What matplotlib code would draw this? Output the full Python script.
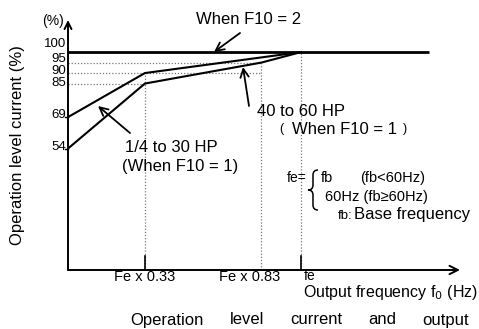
import matplotlib
matplotlib.use("Agg")
import matplotlib.pyplot as plt
from matplotlib.path import Path
from matplotlib.patches import PathPatch, FancyArrowPatch

plt.rcParams['font.family'] = ['Liberation Sans', 'DejaVu Sans']

# ---- data ----
x_small = [0, 0.33, 1.0]           # 1/4 to 30 HP (F10 = 1)
y_small = [69, 90, 100]
x_large = [0, 0.33, 0.83, 1.0]     # 40 to 60 HP (F10 = 1)
y_large = [54, 85, 95, 100]
x_f10_2 = [0, 1.55]                # F10 = 2
y_f10_2 = [100, 100]
ytick_vals = [100, 95, 90, 85, 69, 54]
ytick_labels = ['100', '95', '90', '85', '69', '54']
xtick_vals = [0.33, 0.83, 1.0]
xtick_labels = ['Fe x 0.33', 'Fe x 0.83', 'fe']

W, H = 479, 329
fig = plt.figure(figsize=(W / 100, H / 100), dpi=100)
fig.patch.set_facecolor('white')

def fx(x):
    return x / W

def fy(y):
    return 1 - y / H

ax = fig.add_axes([fx(68), fy(270), fx(460) - fx(68), fy(20) - fy(270)])
ax.set_xlim(0, 1.682)
ax.set_ylim(-3.9, 115.3)
ax.axis('off')

# axes with arrows
ax.annotate('', xy=(0, 1), xytext=(0, 0), xycoords='axes fraction',
            arrowprops=dict(arrowstyle='->,head_length=0.5,head_width=0.25', lw=1.4, color='black',
                            shrinkA=0, shrinkB=0))
ax.annotate('', xy=(1, 0), xytext=(0, 0), xycoords='axes fraction',
            arrowprops=dict(arrowstyle='->,head_length=0.6,head_width=0.3', lw=1.4, color='black',
                            shrinkA=0, shrinkB=0))

# dotted guides
dot = dict(color='#777777', lw=0.9, linestyle=(0, (1, 1.5)))
ax.plot([0, x_large[2]], [y_large[2], y_large[2]], **dot)
ax.plot([0, x_large[2]], [y_small[1], y_small[1]], **dot)
ax.plot([0, x_large[1]], [y_large[1], y_large[1]], **dot)
ax.plot([x_small[1], x_small[1]], [-3.9, y_small[1]], **dot)
ax.plot([x_large[2], x_large[2]], [-3.9, y_large[2]], **dot)
ax.plot([x_small[2], x_small[2]], [-3.9, y_small[2]], **dot)

# data lines
ax.plot(x_f10_2, y_f10_2, color='black', lw=2.0, solid_capstyle='butt')
ax.plot(x_small, y_small, color='black', lw=1.5)
ax.plot(x_large, y_large, color='black', lw=1.5)

# small tick marks on x axis
for xv in [xtick_vals[0], xtick_vals[2]]:
    ax.plot([xv, xv], [-3.9, 3.0], color='black', lw=1.2)

# y tick labels (slightly raised, as in reference)
y_offsets = [8, 3.5, 2, 0.5, 2, 2]
for v, lab, off in zip(ytick_vals, ytick_labels, y_offsets):
    ax.annotate(lab, xy=(0, v), xytext=(-2, off), textcoords='offset pixels',
                ha='right', va='center', fontsize=9.5, annotation_clip=False)
# small y ticks
for v in [69, 54]:
    ax.plot([-0.015, 0], [v, v], color='black', lw=1.0, clip_on=False)

# x tick labels
x_offsets = [0, -12, 3]
x_has = ['center', 'center', 'left']
x_sizes = [10.5, 10.5, 10]
x_dy = [-7, -7, -6]
for v, lab, off, ha, fs, dy in zip(xtick_vals, xtick_labels, x_offsets, x_has, x_sizes, x_dy):
    ax.annotate(lab, xy=(v, -3.9), xytext=(off, dy), textcoords='offset pixels',
                ha=ha, va='center', fontsize=fs, annotation_clip=False)

# axis texts
fig.text(fx(53), fy(21), '(%)', ha='center', va='center', fontsize=10)
fig.text(fx(18), fy(145), 'Operation level current (%)', rotation=90,
         ha='center', va='center', fontsize=12)
fig.text(fx(478), fy(292), 'Output frequency f$_0$ (Hz)', ha='right', va='center', fontsize=11.5)

# annotations
fig.text(fx(249), fy(19), 'When F10 = 2', ha='center', va='center', fontsize=12)
fig.text(fx(125), fy(148), '1/4 to 30 HP', ha='left', va='center', fontsize=12)
fig.text(fx(122), fy(167), '(When F10 = 1)', ha='left', va='center', fontsize=12)
fig.text(fx(257), fy(111), '40 to 60 HP', ha='left', va='center', fontsize=12)
fig.text(fx(279), fy(129), '(', ha='left', va='center', fontsize=9)
fig.text(fx(292), fy(129), 'When F10 = 1', ha='left', va='center', fontsize=12)
fig.text(fx(403), fy(129), ')', ha='left', va='center', fontsize=9)

arr = dict(arrowstyle='->,head_length=0.5,head_width=0.25', lw=1.3, color='black',
           shrinkA=0, shrinkB=0)
fig.add_artist(FancyArrowPatch((fx(240), fy(33)), (fx(214), fy(52)),
               transform=fig.transFigure, mutation_scale=12, **arr))
fig.add_artist(FancyArrowPatch((fx(130), fy(133)), (fx(98), fy(106)),
               transform=fig.transFigure, mutation_scale=12, **arr))
fig.add_artist(FancyArrowPatch((fx(249), fy(106)), (fx(243), fy(67)),
               transform=fig.transFigure, mutation_scale=12, **arr))

# fe definition
fig.text(fx(287), fy(178), 'fe=', ha='left', va='center', fontsize=10)
# curly brace drawn as a path
bx, top, mid, bot = 313, 170, 190, 210
verts = [(bx + 5, top), (bx, top), (bx, top + 5), (bx, mid - 5),
         (bx, mid), (bx - 5, mid),
         (bx, mid), (bx, mid + 5), (bx, bot - 5),
         (bx, bot), (bx + 5, bot)]
codes = [Path.MOVETO, Path.CURVE3, Path.CURVE3, Path.LINETO,
         Path.CURVE3, Path.CURVE3,
         Path.CURVE3, Path.CURVE3, Path.LINETO,
         Path.CURVE3, Path.CURVE3]
brace = Path([(fx(a), fy(b)) for a, b in verts], codes)
fig.add_artist(PathPatch(brace, transform=fig.transFigure, fill=False, lw=1.1, color='black'))
fig.text(fx(321), fy(178), 'fb', ha='left', va='center', fontsize=10.5)
fig.text(fx(360), fy(178), '(fb<60Hz)', ha='left', va='center', fontsize=10.5)
fig.text(fx(325), fy(197), '60Hz (fb\u226560Hz)', ha='left', va='center', fontsize=10.5)
fig.text(fx(352), fy(216), 'fb:', ha='right', va='center', fontsize=9.5)
fig.text(fx(354), fy(215), 'Base frequency', ha='left', va='center', fontsize=12)

# caption (cut off at bottom)
for word, xl in zip(['Operation', 'level', 'current', 'and', 'output'],
                    [130, 230, 290, 368, 422]):
    fig.text(fx(xl), fy(320), word, ha='left', va='center', fontsize=12)

fig.savefig('out.png', dpi=100, facecolor='white')
